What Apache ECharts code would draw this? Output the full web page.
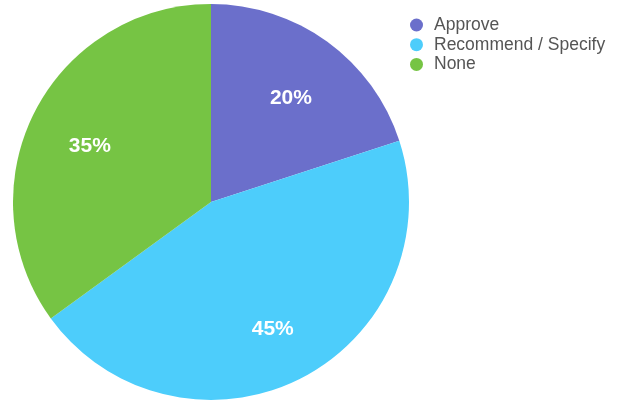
<!DOCTYPE html>
<html><head><meta charset="utf-8">
<script src="https://cdn.jsdelivr.net/npm/echarts@6/dist/echarts.min.js"></script>
<style>html,body{margin:0;padding:0;background:#fff}#c{width:619px;height:403px}</style>
</head><body><div id="c"></div>
<script>
const categories = ['Approve', 'Recommend / Specify', 'None'];
const values = [20, 45, 35];
const colors = ['#6b6fcb', '#4dcdfb', '#76c444'];

const data = categories.map((n, i) => ({ name: n, value: values[i], itemStyle: { color: colors[i] } }));

const chart = echarts.init(document.getElementById('c'));
chart.setOption({
  animation: false,
  legend: {
    orient: 'vertical',
    left: 410,
    top: 16,
    padding: 0,
    icon: 'circle',
    itemWidth: 13,
    itemHeight: 13,
    itemGap: 1.7,
    data: categories,
    textStyle: { fontFamily: 'Liberation Sans', fontSize: 17.5, lineHeight: 17, color: '#555', padding: [0, 0, 0, 6] }
  },
  series: [
    {
      type: 'pie',
      center: [211, 202],
      radius: [0, 198],
      startAngle: 90,
      clockwise: true,
      silent: true,
      label: { show: false },
      labelLine: { show: false },
      data: data
    },
    {
      type: 'pie',
      center: [211, 202],
      radius: [68, 198],
      startAngle: 90,
      clockwise: true,
      silent: true,
      legendHoverLink: false,
      itemStyle: { color: 'transparent' },
      label: {
        show: true,
        position: 'inside',
        formatter: '{d}%',
        color: '#fff',
        fontFamily: 'Liberation Sans',
        fontWeight: 'bold',
        fontSize: 21,
        offset: [0, 6]
      },
      labelLine: { show: false },
      data: categories.map((n, i) => ({ name: n + ' ', value: values[i] }))
    }
  ]
});
</script></body></html>
